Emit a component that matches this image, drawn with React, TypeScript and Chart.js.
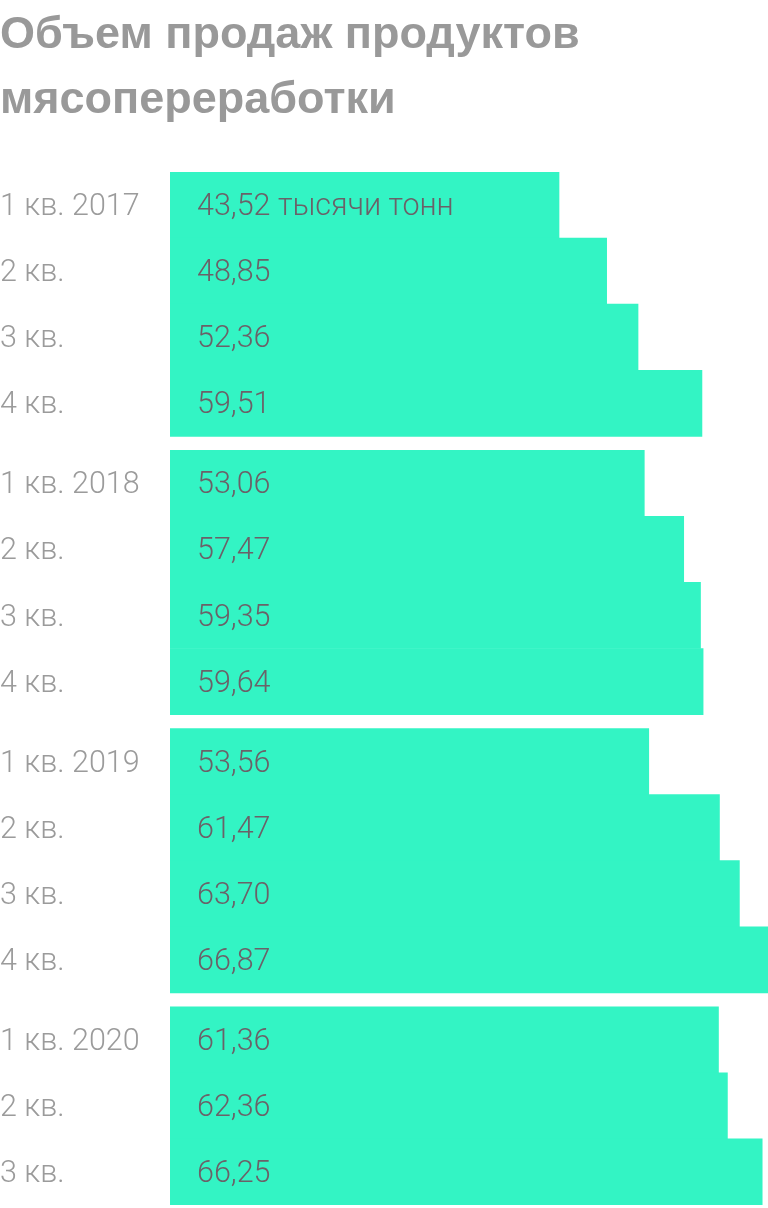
import React, { useEffect, useRef } from "react";
import { Chart, registerables } from "chart.js";

Chart.register(...registerables);

const rowLabels = [
  "1 кв. 2017", "2 кв.", "3 кв.", "4 кв.",
  "1 кв. 2018", "2 кв.", "3 кв.", "4 кв.",
  "1 кв. 2019", "2 кв.", "3 кв.", "4 кв.",
  "1 кв. 2020", "2 кв.", "3 кв.",
];
const yearGroup = [0, 0, 0, 0, 1, 1, 1, 1, 2, 2, 2, 2, 3, 3, 3];
const quarterIndex = [0, 1, 2, 3, 0, 1, 2, 3, 0, 1, 2, 3, 0, 1, 2];
const salesValues = [
  43.52, 48.85, 52.36, 59.51,
  53.06, 57.47, 59.35, 59.64,
  53.56, 61.47, 63.7, 66.87,
  61.36, 62.36, 66.25,
];
const unitSuffix = " тысячи тонн";

const GROUP_GAP = 0.2113;
const rowPositions = yearGroup.map((g, i) => g * (4 + GROUP_GAP) + quarterIndex[i]);

const fmt = (v: number) => v.toFixed(2).replace(".", ",");

export default function App() {
  const ref = useRef<HTMLCanvasElement | null>(null);
  useEffect(() => {
    if (!ref.current) return;
    const valueLabels = {
      id: "valueLabels",
      afterDatasetsDraw(chart: any) {
        const ctx = chart.ctx;
        const meta = chart.getDatasetMeta(0);
        ctx.save();
        ctx.font = "300 30.5px Roboto";
        ctx.fillStyle = "#6b6168";
        ctx.textBaseline = "middle";
        ctx.textAlign = "left";
        meta.data.forEach((bar: any, i: number) => {
          const text = fmt(salesValues[i]) + (i === 0 ? unitSuffix : "");
          ctx.fillText(text, chart.chartArea.left + 27, bar.y + 2.5);
        });
        ctx.restore();
      },
    };
    const lastPos = rowPositions[rowPositions.length - 1];
    const chart = new Chart(ref.current, {
      type: "bar",
      data: {
        datasets: [
          {
            data: salesValues.map((v, i) => ({ x: v, y: rowPositions[i] })),
            backgroundColor: "#33F4C4",
            borderWidth: 0,
            barPercentage: 1,
            categoryPercentage: 1,
          },
        ],
      },
      options: {
        indexAxis: "y",
        animation: false,
        responsive: false,
        maintainAspectRatio: false,
        layout: { padding: { top: 0, bottom: 3, left: 0, right: 0 } },
        plugins: {
          legend: { display: false },
          tooltip: { enabled: false },
          title: {
            display: true,
            text: ["Объем продаж продуктов", "мясопереработки"],
            align: "start",
            color: "#999999",
            font: { family: "'Liberation Sans', Arial, sans-serif", size: 45, weight: "bold", lineHeight: 1.45 },
            padding: { top: 3, bottom: 38.5 },
          },
        },
        scales: {
          x: { type: "linear", min: 0, max: 66.9, display: false },
          y: {
            type: "linear",
            reverse: true,
            offset: false,
            min: -0.5,
            max: lastPos + 0.5,
            grid: { display: false },
            border: { display: false },
            afterBuildTicks: (scale: any) => {
              scale.ticks = rowPositions.map((v) => ({ value: v }));
            },
            afterFit: (scale: any) => {
              scale.width = 170;
              scale.paddingTop = 0;
              scale.paddingBottom = 0;
            },
            ticks: {
              autoSkip: false,
              crossAlign: "far",
              padding: 0,
              color: "#9b9b9b",
              font: { family: "Roboto", size: 30.5, weight: "300", lineHeight: "5px" },
              callback: (_v: any, index: number) => ["", rowLabels[index]],
            },
          },
        },
      },
      plugins: [valueLabels],
    });
    return () => chart.destroy();
  }, []);
  return (
    <div style={{ position: "fixed", left: 0, top: 0, width: 768, height: 1208, background: "#fff" }}>
      <canvas ref={ref} width={768} height={1208} style={{ width: 768, height: 1208, display: "block" }} />
    </div>
  );
}
